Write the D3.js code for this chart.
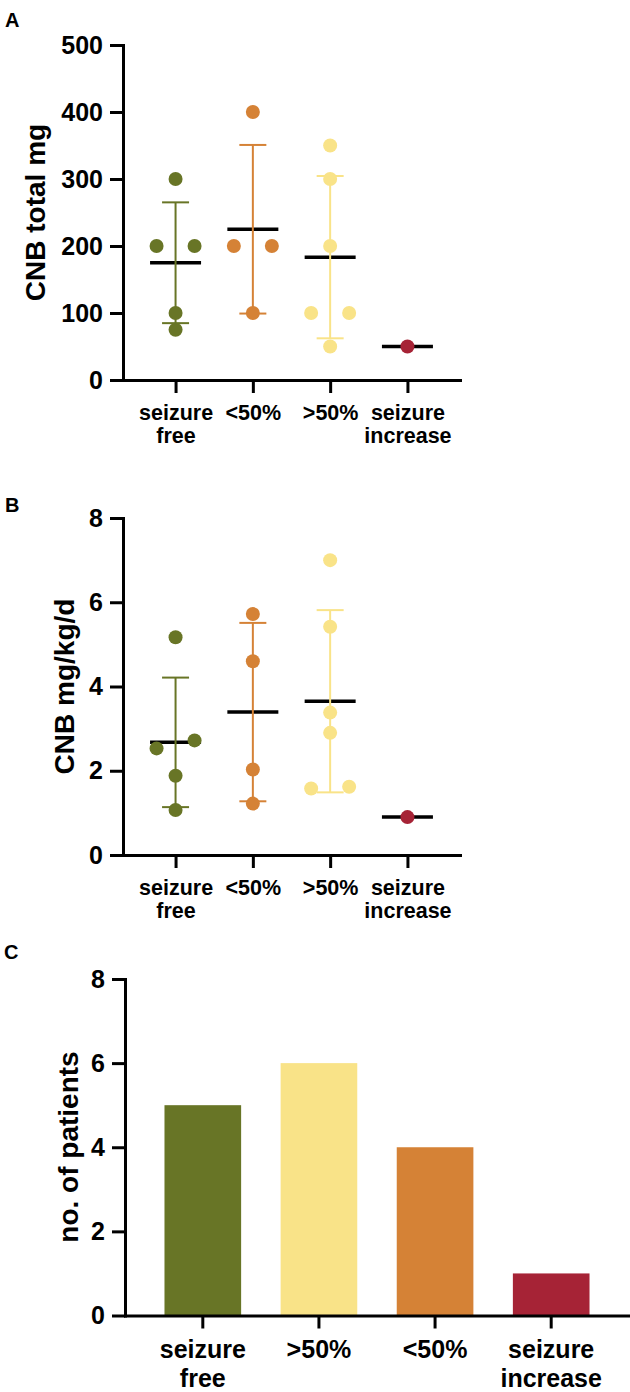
<!DOCTYPE html>
<html>
<head>
<meta charset="utf-8">
<script src="https://cdn.jsdelivr.net/npm/d3@7"></script>
<style>
  body { margin: 0; background: #fff; }
</style>
</head>
<body>
<div class="canvas"></div>
<script>
// categories (panel A/B order differs from panel C)
const groupsDose = ['seizure free', '<50%', '>50%', 'seizure increase'];
const groupsCount = ['seizure free', '>50%', '<50%', 'seizure increase'];

// panel A: CNB total mg, one value per patient
const totalMg = [
    [300, 200, 200, 100, 75],
    [400, 200, 200, 100],
    [350, 300, 200, 100, 100, 50],
    [50]
];

// panel B: CNB mg/kg/d, one value per patient
const mgPerKgDay = [
    [5.17, 2.72, 2.53, 1.88, 1.07],
    [5.72, 4.6, 2.03, 1.22],
    [7.0, 5.42, 3.38, 2.9, 1.58, 1.62],
    [0.9]
];

// panel C: number of patients per group (groupsCount order)
const patientCounts = [5, 6, 4, 1];

// tick labels
const ticksTotalMg = [0, 100, 200, 300, 400, 500];
const ticksPerKg = [0, 2, 4, 6, 8];
const ticksCount = [0, 2, 4, 6, 8];

const groupColors = {
    'seizure free': '#687526',
    '<50%': '#D58236',
    '>50%': '#F9E388',
    'seizure increase': '#A62336'
};

const font = "'Liberation Sans', Arial, Helvetica, sans-serif";

const svg = d3.select('.canvas')
    .append('svg')
    .attr('width', 630)
    .attr('height', 1392)
    .style('font-family', font);

// shared axis styling
const styleAxis = (axisGroup, fontSize) => {
    axisGroup.attr('font-family', null).attr('font-size', null);
    axisGroup.select('.domain').attr('stroke', '#000').attr('stroke-width', 3).attr('stroke-linecap', 'square');
    axisGroup.selectAll('.tick line').attr('stroke', '#000').attr('stroke-width', 3);
    axisGroup.selectAll('.tick text')
        .attr('fill', '#000')
        .attr('font-size', fontSize)
        .attr('font-weight', 'bold');
};

// split category names over two lines
const wrapLabels = (axisGroup, firstY, lineGap) => {
    axisGroup.selectAll('.tick text').each(function(name){
        const text = d3.select(this).text(null).attr('y', firstY).attr('dy', null);
        name.split(' ').forEach((word, i) => {
            text.append('tspan').attr('x', 0).attr('dy', i ? lineGap : 0).text(word);
        });
    });
};

const addPanelLetter = (letter, x, y) => {
    svg.append('text')
        .attr('x', x).attr('y', y)
        .attr('font-size', 20).attr('font-weight', 'bold')
        .text(letter);
};

const addYTitle = (label, x, y) => {
    svg.append('text')
        .attr('transform', `translate(${x}, ${y}) rotate(-90)`)
        .attr('text-anchor', 'middle')
        .attr('font-size', 28).attr('font-weight', 'bold')
        .text(label);
};

// scatter with mean ± SD (panels A and B)
const drawDotPanel = (cfg) => {
    const graph = svg.append('g');
    const radius = 7;

    const x = d3.scalePoint()
        .domain(groupsDose)
        .range([cfg.left, cfg.right])
        .padding(0.68);

    const y = d3.scaleLinear()
        .domain(d3.extent(cfg.ticks))
        .range([cfg.bottom, cfg.top]);

    const yAxis = graph.append('g')
        .attr('transform', `translate(${cfg.left}, 0)`)
        .call(d3.axisLeft(y).tickValues(cfg.ticks).tickSize(13).tickSizeOuter(0).tickPadding(7));
    styleAxis(yAxis, 25);

    const xAxis = graph.append('g')
        .attr('transform', `translate(0, ${cfg.bottom})`)
        .call(d3.axisBottom(x).tickSize(13).tickSizeOuter(0));
    styleAxis(xAxis, 21.5);
    wrapLabels(xAxis, 40, 23);

    const stats = groupsDose.map((name, i) => ({
        name,
        values: cfg.values[i],
        mean: d3.mean(cfg.values[i]),
        sd: d3.deviation(cfg.values[i])
    }));

    // mean line
    graph.selectAll('line.mean')
        .data(stats)
        .enter()
        .append('line')
        .attr('class', 'mean')
        .attr('x1', d => x(d.name) - 25.5)
        .attr('x2', d => x(d.name) + 25.5)
        .attr('y1', d => y(d.mean))
        .attr('y2', d => y(d.mean))
        .attr('stroke', '#000')
        .attr('stroke-width', 3.5);

    // SD error bars (none for a single patient)
    const withSd = stats.filter(d => d.sd !== undefined);
    const bars = graph.selectAll('g.err')
        .data(withSd)
        .enter()
        .append('g')
        .attr('class', 'err')
        .attr('stroke', d => groupColors[d.name])
        .attr('stroke-width', 2);
    bars.append('line')
        .attr('x1', d => x(d.name)).attr('x2', d => x(d.name))
        .attr('y1', d => y(d.mean - d.sd)).attr('y2', d => y(d.mean + d.sd));
    [-1, 1].forEach(sign => {
        bars.append('line')
            .attr('x1', d => x(d.name) - 13.5).attr('x2', d => x(d.name) + 13.5)
            .attr('y1', d => y(d.mean + sign * d.sd)).attr('y2', d => y(d.mean + sign * d.sd));
    });

    // points, spread sideways where they would overlap
    const points = [];
    stats.forEach(group => {
        const sorted = group.values.slice().sort(d3.ascending);
        let cluster = [];
        const flush = () => {
            cluster.forEach((value, k) => {
                const offset = (k - (cluster.length - 1) / 2) * 38;
                points.push({ name: group.name, value, offset });
            });
            cluster = [];
        };
        sorted.forEach(value => {
            if (cluster.length && Math.abs(y(value) - y(cluster[cluster.length - 1])) >= radius * 2) flush();
            cluster.push(value);
        });
        flush();
    });

    graph.selectAll('circle')
        .data(points)
        .enter()
        .append('circle')
        .attr('cx', d => x(d.name) + d.offset)
        .attr('cy', d => y(d.value))
        .attr('r', radius)
        .attr('fill', d => groupColors[d.name]);
};

// panel A
addPanelLetter('A', 5, 27);
drawDotPanel({ values: totalMg, ticks: ticksTotalMg, left: 123, right: 460, top: 45, bottom: 380 });
addYTitle('CNB total mg', 45, 212.5);

// panel B
addPanelLetter('B', 5, 512);
drawDotPanel({ values: mgPerKgDay, ticks: ticksPerKg, left: 123, right: 460, top: 518, bottom: 855 });
addYTitle('CNB mg/kg/d', 74, 686.5);

// panel C: bar chart of patient numbers
addPanelLetter('C', 4, 959);
const barGraph = svg.append('g');
const xBar = d3.scaleBand()
    .domain(groupsCount)
    .range([125, 629])
    .paddingInner(0.34)
    .paddingOuter(0.34);

const yBar = d3.scaleLinear()
    .domain(d3.extent(ticksCount))
    .range([1315.5, 979]);

barGraph.selectAll('rect')
    .data(groupsCount)
    .enter()
    .append('rect')
    .attr('x', d => xBar(d))
    .attr('width', xBar.bandwidth())
    .attr('y', (d, i) => yBar(patientCounts[i]))
    .attr('height', (d, i) => yBar(0) - yBar(patientCounts[i]))
    .attr('fill', d => groupColors[d]);

const yBarAxis = barGraph.append('g')
    .attr('transform', 'translate(125, 0)')
    .call(d3.axisLeft(yBar).tickValues(ticksCount).tickSize(13).tickSizeOuter(0).tickPadding(7));
styleAxis(yBarAxis, 25);

const xBarAxis = barGraph.append('g')
    .attr('transform', 'translate(0, 1315.5)')
    .call(d3.axisBottom(xBar).tickSize(13).tickSizeOuter(0));
styleAxis(xBarAxis, 25);
wrapLabels(xBarAxis, 42.5, 29);

addYTitle('no. of patients', 78, 1147);
</script>
</body>
</html>
